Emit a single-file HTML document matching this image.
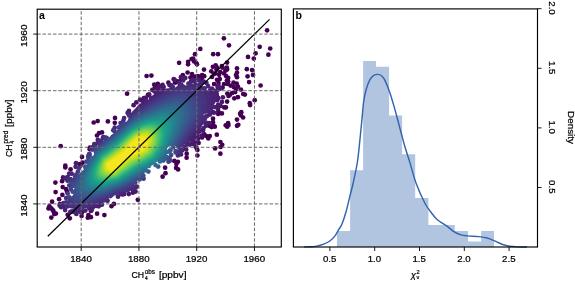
<!DOCTYPE html>
<html><head><meta charset="utf-8"><style>
html,body{margin:0;padding:0;background:#fff;}
svg{display:block;will-change:transform;}
.t{font-family:"Liberation Sans", sans-serif;font-size:9px;fill:#000;stroke:#000;stroke-width:0.22px;}
.s{font-size:6.3px;}
.pl{font-family:"Liberation Sans", sans-serif;font-size:10.6px;font-weight:bold;fill:#000;}
</style></head><body>
<svg width="575" height="282" viewBox="0 0 575 282">
<rect width="575" height="282" fill="#fff"/>
<g id="pa">
<g fill="#440154">
<circle cx="223.9" cy="38.3" r="2.35"/>
<circle cx="229.0" cy="45.3" r="2.35"/>
<circle cx="200.3" cy="48.9" r="2.35"/>
<circle cx="195.0" cy="54.2" r="2.35"/>
<circle cx="213.2" cy="54.2" r="2.35"/>
<circle cx="218.0" cy="54.2" r="2.35"/>
<circle cx="193.2" cy="58.6" r="2.35"/>
<circle cx="267.1" cy="30.3" r="2.35"/>
<circle cx="259.7" cy="46.8" r="2.35"/>
<circle cx="270.2" cy="48.5" r="2.35"/>
<circle cx="255.6" cy="53.3" r="2.35"/>
<circle cx="268.4" cy="54.7" r="2.35"/>
<circle cx="248.0" cy="56.9" r="2.35"/>
<circle cx="253.8" cy="58.6" r="2.35"/>
<circle cx="246.8" cy="69.2" r="2.35"/>
<circle cx="252.1" cy="70.1" r="2.35"/>
<circle cx="237.0" cy="68.3" r="2.35"/>
<circle cx="237.0" cy="72.7" r="2.35"/>
<circle cx="247.6" cy="76.3" r="2.35"/>
<circle cx="253.0" cy="74.9" r="2.35"/>
<circle cx="237.0" cy="77.2" r="2.35"/>
<circle cx="249.1" cy="82.1" r="2.35"/>
<circle cx="260.6" cy="85.5" r="2.35"/>
<circle cx="237.9" cy="86.6" r="2.35"/>
<circle cx="240.9" cy="89.6" r="2.35"/>
<circle cx="243.2" cy="94.0" r="2.35"/>
<circle cx="237.9" cy="97.2" r="2.35"/>
<circle cx="254.7" cy="100.2" r="2.35"/>
<circle cx="249.8" cy="103.2" r="2.35"/>
<circle cx="191.6" cy="59.0" r="2.35"/>
<circle cx="188.1" cy="64.3" r="2.35"/>
<circle cx="197.0" cy="64.3" r="2.35"/>
<circle cx="227.1" cy="62.6" r="2.35"/>
<circle cx="204.0" cy="69.6" r="2.35"/>
<circle cx="212.9" cy="66.8" r="2.35"/>
<circle cx="216.5" cy="69.6" r="2.35"/>
<circle cx="221.8" cy="66.1" r="2.35"/>
<circle cx="236.0" cy="75.0" r="2.35"/>
<circle cx="182.8" cy="75.0" r="2.35"/>
<circle cx="230.6" cy="85.6" r="2.35"/>
<circle cx="236.0" cy="89.1" r="2.35"/>
<circle cx="250.1" cy="105.1" r="2.35"/>
<circle cx="227.1" cy="101.6" r="2.35"/>
<circle cx="218.2" cy="114.0" r="2.35"/>
<circle cx="241.3" cy="112.2" r="2.35"/>
<circle cx="243.1" cy="117.5" r="2.35"/>
<circle cx="179.1" cy="62.8" r="2.35"/>
<circle cx="151.4" cy="75.6" r="2.35"/>
<circle cx="187.6" cy="72.5" r="2.35"/>
<circle cx="182.9" cy="77.7" r="2.35"/>
<circle cx="157.8" cy="83.8" r="2.35"/>
<circle cx="168.4" cy="82.7" r="2.35"/>
<circle cx="177.7" cy="81.3" r="2.35"/>
<circle cx="217.0" cy="67.7" r="2.35"/>
<circle cx="211.3" cy="71.3" r="2.35"/>
<circle cx="222.6" cy="67.7" r="2.35"/>
<circle cx="225.5" cy="70.6" r="2.35"/>
<circle cx="226.9" cy="67.7" r="2.35"/>
<circle cx="192.1" cy="76.2" r="2.35"/>
<circle cx="197.8" cy="76.2" r="2.35"/>
<circle cx="204.2" cy="76.2" r="2.35"/>
<circle cx="215.5" cy="73.4" r="2.35"/>
<circle cx="219.1" cy="74.8" r="2.35"/>
<circle cx="224.0" cy="73.4" r="2.35"/>
<circle cx="226.2" cy="76.2" r="2.35"/>
<circle cx="217.0" cy="79.8" r="2.35"/>
<circle cx="219.8" cy="79.1" r="2.35"/>
<circle cx="226.9" cy="80.5" r="2.35"/>
<circle cx="214.1" cy="84.0" r="2.35"/>
<circle cx="224.0" cy="84.0" r="2.35"/>
<circle cx="217.7" cy="86.9" r="2.35"/>
<circle cx="222.6" cy="87.6" r="2.35"/>
<circle cx="227.6" cy="84.0" r="2.35"/>
<circle cx="127.1" cy="93.7" r="2.35"/>
<circle cx="146.6" cy="76.0" r="2.35"/>
<circle cx="188.1" cy="61.8" r="2.35"/>
<circle cx="196.2" cy="62.8" r="2.35"/>
<circle cx="215.7" cy="65.3" r="2.35"/>
<circle cx="155.0" cy="86.0" r="2.35"/>
<circle cx="93.7" cy="122.5" r="2.35"/>
<circle cx="115.0" cy="117.9" r="2.35"/>
<circle cx="107.9" cy="121.4" r="2.35"/>
<circle cx="99.0" cy="133.1" r="2.35"/>
<circle cx="60.7" cy="146.2" r="2.35"/>
<circle cx="82.0" cy="156.9" r="2.35"/>
<circle cx="65.3" cy="165.7" r="2.35"/>
<circle cx="70.6" cy="169.3" r="2.35"/>
<circle cx="97.7" cy="121.1" r="2.35"/>
<circle cx="114.8" cy="122.8" r="2.35"/>
<circle cx="102.0" cy="132.4" r="2.35"/>
<circle cx="97.0" cy="135.5" r="2.35"/>
<circle cx="89.9" cy="147.6" r="2.35"/>
<circle cx="148.0" cy="94.9" r="2.35"/>
<circle cx="79.8" cy="164.1" r="2.35"/>
<circle cx="82.6" cy="162.7" r="2.35"/>
<circle cx="65.3" cy="167.4" r="2.35"/>
<circle cx="55.4" cy="182.6" r="2.35"/>
<circle cx="62.1" cy="181.2" r="2.35"/>
<circle cx="89.7" cy="149.3" r="2.35"/>
<circle cx="62.7" cy="187.1" r="2.35"/>
<circle cx="55.6" cy="192.1" r="2.35"/>
<circle cx="62.4" cy="194.9" r="2.35"/>
<circle cx="59.1" cy="199.2" r="2.35"/>
<circle cx="52.1" cy="201.7" r="2.35"/>
<circle cx="59.9" cy="204.1" r="2.35"/>
<circle cx="48.5" cy="208.4" r="2.35"/>
<circle cx="51.3" cy="208.4" r="2.35"/>
<circle cx="53.5" cy="211.2" r="2.35"/>
<circle cx="54.2" cy="214.1" r="2.35"/>
<circle cx="51.3" cy="217.6" r="2.35"/>
<circle cx="67.7" cy="214.8" r="2.35"/>
<circle cx="69.8" cy="218.3" r="2.35"/>
<circle cx="75.5" cy="212.7" r="2.35"/>
<circle cx="52.6" cy="209.8" r="2.35"/>
<circle cx="49.4" cy="206.2" r="2.35"/>
<circle cx="88.4" cy="215.1" r="2.35"/>
<circle cx="104.4" cy="215.1" r="2.35"/>
<circle cx="111.5" cy="206.2" r="2.35"/>
<circle cx="137.8" cy="199.8" r="2.35"/>
<circle cx="162.6" cy="176.7" r="2.35"/>
<circle cx="165.5" cy="173.2" r="2.35"/>
<circle cx="176.1" cy="167.9" r="2.35"/>
<circle cx="177.9" cy="161.8" r="2.35"/>
<circle cx="186.7" cy="153.7" r="2.35"/>
<circle cx="197.4" cy="155.5" r="2.35"/>
<circle cx="197.4" cy="150.1" r="2.35"/>
<circle cx="220.4" cy="153.7" r="2.35"/>
<circle cx="215.1" cy="148.4" r="2.35"/>
<circle cx="222.2" cy="144.8" r="2.35"/>
<circle cx="220.4" cy="142.0" r="2.35"/>
<circle cx="206.2" cy="136.0" r="2.35"/>
<circle cx="209.8" cy="136.0" r="2.35"/>
<circle cx="211.6" cy="127.1" r="2.35"/>
<circle cx="213.3" cy="125.3" r="2.35"/>
<circle cx="225.7" cy="125.3" r="2.35"/>
<circle cx="165.1" cy="167.7" r="2.35"/>
<circle cx="235.2" cy="92.1" r="2.35"/>
<circle cx="234.3" cy="98.3" r="2.35"/>
<circle cx="229.9" cy="94.8" r="2.35"/>
<circle cx="218.4" cy="111.6" r="2.35"/>
<circle cx="221.9" cy="113.4" r="2.35"/>
<circle cx="213.0" cy="118.7" r="2.35"/>
<circle cx="213.0" cy="122.2" r="2.35"/>
<circle cx="209.5" cy="125.8" r="2.35"/>
<circle cx="214.8" cy="126.7" r="2.35"/>
<circle cx="228.1" cy="123.1" r="2.35"/>
<circle cx="227.2" cy="126.7" r="2.35"/>
<circle cx="237.0" cy="125.8" r="2.35"/>
<circle cx="237.0" cy="119.6" r="2.35"/>
<circle cx="113.9" cy="203.9" r="2.35"/>
<circle cx="97.1" cy="213.7" r="2.35"/>
<circle cx="90.9" cy="217.2" r="2.35"/>
<circle cx="81.6" cy="215.9" r="2.35"/>
<circle cx="87.8" cy="217.7" r="2.35"/>
<circle cx="55.9" cy="213.6" r="2.35"/>
<circle cx="228.5" cy="95.9" r="2.35"/>
<circle cx="225.9" cy="107.4" r="2.35"/>
<circle cx="241.0" cy="115.4" r="2.35"/>
<circle cx="228.5" cy="125.1" r="2.35"/>
<circle cx="238.3" cy="124.8" r="2.35"/>
<circle cx="216.8" cy="134.7" r="2.35"/>
<circle cx="208.3" cy="138.5" r="2.35"/>
<circle cx="220.6" cy="147.0" r="2.35"/>
<circle cx="196.6" cy="148.1" r="2.35"/>
<circle cx="186.6" cy="157.7" r="2.35"/>
<circle cx="174.3" cy="160.9" r="2.35"/>
<circle cx="176.4" cy="164.0" r="2.35"/>
<circle cx="178.1" cy="169.4" r="2.35"/>
<circle cx="194.1" cy="61.4" r="2.35"/>
<circle cx="181.4" cy="79.5" r="2.35"/>
<circle cx="175.0" cy="82.7" r="2.35"/>
<circle cx="193.6" cy="79.5" r="2.35"/>
<circle cx="191.0" cy="81.6" r="2.35"/>
<circle cx="199.5" cy="76.8" r="2.35"/>
<circle cx="202.1" cy="75.2" r="2.35"/>
<circle cx="200.5" cy="80.5" r="2.35"/>
<circle cx="203.7" cy="81.6" r="2.35"/>
<circle cx="220.2" cy="72.0" r="2.35"/>
<circle cx="213.8" cy="74.1" r="2.35"/>
<circle cx="201.6" cy="78.4" r="2.35"/>
<circle cx="228.2" cy="81.6" r="2.35"/>
<circle cx="80.5" cy="165.7" r="2.35"/>
<circle cx="82.3" cy="212.0" r="2.35"/>
<circle cx="90.9" cy="211.0" r="2.35"/>
<circle cx="66.0" cy="189.0" r="2.35"/>
<circle cx="67.0" cy="191.5" r="2.35"/>
<circle cx="227.1" cy="69.4" r="2.35"/>
<circle cx="228.2" cy="77.9" r="2.35"/>
<circle cx="233.5" cy="82.7" r="2.35"/>
<circle cx="236.7" cy="83.7" r="2.35"/>
<circle cx="227.3" cy="93.5" r="2.35"/>
<circle cx="224.1" cy="107.3" r="2.35"/>
<circle cx="233.7" cy="87.1" r="2.35"/>
<circle cx="204.3" cy="134.3" r="2.35"/>
<circle cx="202.1" cy="137.5" r="2.35"/>
<circle cx="232.1" cy="93.0" r="2.35"/>
<circle cx="244.9" cy="94.6" r="2.35"/>
<circle cx="240.1" cy="113.7" r="2.35"/>
<circle cx="192.0" cy="74.0" r="2.35"/>
<circle cx="195.0" cy="76.5" r="2.35"/>
<circle cx="212.0" cy="77.0" r="2.35"/>
<circle cx="218.5" cy="83.0" r="2.35"/>
<circle cx="190.5" cy="77.5" r="2.35"/>
</g>
<circle cx="154.2" cy="84.5" r="2.35" fill="#460b5e"/>
<circle cx="198.7" cy="143.0" r="2.35" fill="#470d60"/>
<circle cx="195.7" cy="146.7" r="2.35" fill="#470d60"/>
<circle cx="152.3" cy="89.9" r="2.35" fill="#471164"/>
<circle cx="140.0" cy="99.6" r="2.35" fill="#471365"/>
<circle cx="136.3" cy="102.4" r="2.35" fill="#471365"/>
<circle cx="202.3" cy="135.6" r="2.35" fill="#471365"/>
<circle cx="195.2" cy="142.6" r="2.35" fill="#471365"/>
<circle cx="154.3" cy="89.2" r="2.35" fill="#471365"/>
<circle cx="201.7" cy="135.9" r="2.35" fill="#471365"/>
<circle cx="198.2" cy="138.8" r="2.35" fill="#481467"/>
<circle cx="158.9" cy="86.3" r="2.35" fill="#481467"/>
<circle cx="133.6" cy="105.2" r="2.35" fill="#481467"/>
<circle cx="63.0" cy="177.4" r="2.35" fill="#481668"/>
<circle cx="135.6" cy="191.6" r="2.35" fill="#481668"/>
<circle cx="143.9" cy="98.0" r="2.35" fill="#481668"/>
<circle cx="141.1" cy="100.1" r="2.35" fill="#481668"/>
<circle cx="132.8" cy="192.7" r="2.35" fill="#481668"/>
<circle cx="197.3" cy="138.4" r="2.35" fill="#481668"/>
<circle cx="162.6" cy="84.9" r="2.35" fill="#481668"/>
<circle cx="220.7" cy="106.0" r="2.35" fill="#481668"/>
<circle cx="149.2" cy="94.3" r="2.35" fill="#481668"/>
<circle cx="154.8" cy="90.5" r="2.35" fill="#481769"/>
<circle cx="173.7" cy="79.2" r="2.35" fill="#481769"/>
<circle cx="128.8" cy="194.1" r="2.35" fill="#481769"/>
<circle cx="192.4" cy="144.0" r="2.35" fill="#481769"/>
<circle cx="221.9" cy="101.9" r="2.35" fill="#481769"/>
<circle cx="158.1" cy="88.5" r="2.35" fill="#481769"/>
<circle cx="162.1" cy="85.9" r="2.35" fill="#481769"/>
<circle cx="161.2" cy="86.6" r="2.35" fill="#481769"/>
<circle cx="222.9" cy="97.3" r="2.35" fill="#481769"/>
<circle cx="180.9" cy="77.2" r="2.35" fill="#48186a"/>
<circle cx="193.4" cy="141.9" r="2.35" fill="#48186a"/>
<circle cx="146.1" cy="97.5" r="2.35" fill="#48186a"/>
<circle cx="155.9" cy="90.6" r="2.35" fill="#48186a"/>
<circle cx="154.6" cy="91.6" r="2.35" fill="#48186a"/>
<circle cx="174.7" cy="79.9" r="2.35" fill="#48186a"/>
<circle cx="218.0" cy="109.1" r="2.35" fill="#48186a"/>
<circle cx="209.3" cy="123.0" r="2.35" fill="#481a6c"/>
<circle cx="156.3" cy="91.0" r="2.35" fill="#481a6c"/>
<circle cx="217.9" cy="106.5" r="2.35" fill="#481a6c"/>
<circle cx="203.0" cy="130.3" r="2.35" fill="#481a6c"/>
<circle cx="91.6" cy="210.2" r="2.35" fill="#481a6c"/>
<circle cx="129.0" cy="110.8" r="2.35" fill="#481a6c"/>
<circle cx="218.2" cy="104.6" r="2.35" fill="#481b6d"/>
<circle cx="76.0" cy="163.2" r="2.35" fill="#481b6d"/>
<circle cx="184.0" cy="77.8" r="2.35" fill="#481b6d"/>
<circle cx="220.2" cy="87.9" r="2.35" fill="#481b6d"/>
<circle cx="197.6" cy="135.5" r="2.35" fill="#481b6d"/>
<circle cx="202.5" cy="130.4" r="2.35" fill="#481b6d"/>
<circle cx="219.8" cy="88.9" r="2.35" fill="#481b6d"/>
<circle cx="185.3" cy="77.9" r="2.35" fill="#481b6d"/>
<circle cx="163.7" cy="87.0" r="2.35" fill="#481b6d"/>
<circle cx="218.5" cy="85.9" r="2.35" fill="#481c6e"/>
<circle cx="206.1" cy="125.7" r="2.35" fill="#481c6e"/>
<circle cx="65.2" cy="178.2" r="2.35" fill="#481c6e"/>
<circle cx="189.9" cy="144.6" r="2.35" fill="#481c6e"/>
<circle cx="214.0" cy="112.7" r="2.35" fill="#481c6e"/>
<circle cx="217.8" cy="86.1" r="2.35" fill="#481c6e"/>
<circle cx="76.4" cy="214.0" r="2.35" fill="#481c6e"/>
<circle cx="98.7" cy="206.3" r="2.35" fill="#481c6e"/>
<circle cx="143.1" cy="101.4" r="2.35" fill="#481c6e"/>
<circle cx="127.8" cy="112.5" r="2.35" fill="#481c6e"/>
<circle cx="218.3" cy="98.2" r="2.35" fill="#481c6e"/>
<circle cx="118.0" cy="196.7" r="2.35" fill="#481c6e"/>
<circle cx="186.2" cy="149.5" r="2.35" fill="#481c6e"/>
<circle cx="203.6" cy="128.0" r="2.35" fill="#481c6e"/>
<circle cx="102.0" cy="204.5" r="2.35" fill="#481d6f"/>
<circle cx="101.4" cy="204.7" r="2.35" fill="#481d6f"/>
<circle cx="217.2" cy="100.1" r="2.35" fill="#481d6f"/>
<circle cx="192.3" cy="140.2" r="2.35" fill="#481d6f"/>
<circle cx="122.9" cy="194.4" r="2.35" fill="#481d6f"/>
<circle cx="69.2" cy="173.6" r="2.35" fill="#481d6f"/>
<circle cx="124.1" cy="193.9" r="2.35" fill="#481d6f"/>
<circle cx="217.3" cy="90.3" r="2.35" fill="#481d6f"/>
<circle cx="192.3" cy="139.7" r="2.35" fill="#481f70"/>
<circle cx="216.5" cy="98.5" r="2.35" fill="#481f70"/>
<circle cx="183.1" cy="80.4" r="2.35" fill="#481f70"/>
<circle cx="169.4" cy="85.1" r="2.35" fill="#481f70"/>
<circle cx="59.6" cy="205.5" r="2.35" fill="#481f70"/>
<circle cx="97.8" cy="139.8" r="2.35" fill="#481f70"/>
<circle cx="214.8" cy="107.1" r="2.35" fill="#481f70"/>
<circle cx="124.0" cy="193.7" r="2.35" fill="#481f70"/>
<circle cx="199.4" cy="131.4" r="2.35" fill="#481f70"/>
<circle cx="216.4" cy="93.9" r="2.35" fill="#481f70"/>
<circle cx="212.3" cy="111.9" r="2.35" fill="#481f70"/>
<circle cx="61.1" cy="207.2" r="2.35" fill="#482071"/>
<circle cx="128.0" cy="113.3" r="2.35" fill="#482071"/>
<circle cx="145.5" cy="100.7" r="2.35" fill="#482071"/>
<circle cx="85.4" cy="210.6" r="2.35" fill="#482071"/>
<circle cx="206.0" cy="122.7" r="2.35" fill="#482071"/>
<circle cx="66.8" cy="177.9" r="2.35" fill="#482071"/>
<circle cx="75.9" cy="212.6" r="2.35" fill="#482071"/>
<circle cx="80.1" cy="211.8" r="2.35" fill="#482071"/>
<circle cx="198.4" cy="79.8" r="2.35" fill="#482071"/>
<circle cx="67.6" cy="177.0" r="2.35" fill="#482071"/>
<circle cx="122.5" cy="193.9" r="2.35" fill="#482071"/>
<circle cx="65.1" cy="210.1" r="2.35" fill="#482173"/>
<circle cx="209.9" cy="114.6" r="2.35" fill="#482173"/>
<circle cx="70.2" cy="212.1" r="2.35" fill="#482173"/>
<circle cx="198.4" cy="80.2" r="2.35" fill="#482173"/>
<circle cx="171.2" cy="85.3" r="2.35" fill="#482173"/>
<circle cx="66.5" cy="178.9" r="2.35" fill="#482173"/>
<circle cx="196.9" cy="132.9" r="2.35" fill="#482173"/>
<circle cx="107.6" cy="200.8" r="2.35" fill="#482173"/>
<circle cx="92.8" cy="207.5" r="2.35" fill="#482173"/>
<circle cx="193.3" cy="80.0" r="2.35" fill="#482173"/>
<circle cx="214.2" cy="100.0" r="2.35" fill="#482173"/>
<circle cx="156.7" cy="93.9" r="2.35" fill="#482173"/>
<circle cx="188.6" cy="143.4" r="2.35" fill="#482173"/>
<circle cx="181.0" cy="154.4" r="2.35" fill="#482173"/>
<circle cx="213.7" cy="90.7" r="2.35" fill="#482173"/>
<circle cx="171.1" cy="85.7" r="2.35" fill="#482173"/>
<circle cx="96.1" cy="205.9" r="2.35" fill="#482173"/>
<circle cx="75.6" cy="166.8" r="2.35" fill="#482173"/>
<circle cx="179.2" cy="82.9" r="2.35" fill="#482173"/>
<circle cx="121.1" cy="194.1" r="2.35" fill="#482173"/>
<circle cx="97.7" cy="205.1" r="2.35" fill="#482173"/>
<circle cx="206.5" cy="83.1" r="2.35" fill="#482374"/>
<circle cx="151.0" cy="97.8" r="2.35" fill="#482374"/>
<circle cx="212.0" cy="88.6" r="2.35" fill="#482374"/>
<circle cx="202.5" cy="82.3" r="2.35" fill="#482374"/>
<circle cx="71.2" cy="211.7" r="2.35" fill="#482374"/>
<circle cx="191.9" cy="80.8" r="2.35" fill="#482374"/>
<circle cx="161.8" cy="91.1" r="2.35" fill="#482374"/>
<circle cx="89.3" cy="208.3" r="2.35" fill="#482374"/>
<circle cx="72.4" cy="211.5" r="2.35" fill="#482374"/>
<circle cx="133.3" cy="188.8" r="2.35" fill="#482374"/>
<circle cx="194.8" cy="81.0" r="2.35" fill="#482374"/>
<circle cx="195.2" cy="81.1" r="2.35" fill="#482374"/>
<circle cx="135.6" cy="187.6" r="2.35" fill="#482475"/>
<circle cx="146.6" cy="101.3" r="2.35" fill="#482475"/>
<circle cx="208.1" cy="86.2" r="2.35" fill="#482475"/>
<circle cx="212.7" cy="101.7" r="2.35" fill="#482475"/>
<circle cx="73.0" cy="211.3" r="2.35" fill="#482475"/>
<circle cx="94.3" cy="144.1" r="2.35" fill="#482475"/>
<circle cx="185.2" cy="147.2" r="2.35" fill="#482475"/>
<circle cx="211.1" cy="108.3" r="2.35" fill="#482475"/>
<circle cx="128.9" cy="113.9" r="2.35" fill="#482475"/>
<circle cx="186.9" cy="144.4" r="2.35" fill="#482475"/>
<circle cx="210.0" cy="90.3" r="2.35" fill="#482576"/>
<circle cx="200.7" cy="83.3" r="2.35" fill="#482576"/>
<circle cx="207.3" cy="115.8" r="2.35" fill="#482576"/>
<circle cx="124.1" cy="118.1" r="2.35" fill="#482576"/>
<circle cx="136.9" cy="186.5" r="2.35" fill="#482576"/>
<circle cx="210.2" cy="92.9" r="2.35" fill="#482576"/>
<circle cx="100.4" cy="202.9" r="2.35" fill="#482576"/>
<circle cx="78.3" cy="210.3" r="2.35" fill="#482576"/>
<circle cx="71.6" cy="173.7" r="2.35" fill="#482576"/>
<circle cx="63.4" cy="205.9" r="2.35" fill="#482576"/>
<circle cx="103.3" cy="137.1" r="2.35" fill="#482677"/>
<circle cx="64.9" cy="207.1" r="2.35" fill="#482677"/>
<circle cx="182.1" cy="150.4" r="2.35" fill="#482677"/>
<circle cx="154.3" cy="97.2" r="2.35" fill="#482677"/>
<circle cx="208.4" cy="111.4" r="2.35" fill="#482677"/>
<circle cx="188.4" cy="83.7" r="2.35" fill="#482878"/>
<circle cx="202.8" cy="122.5" r="2.35" fill="#482878"/>
<circle cx="131.5" cy="188.7" r="2.35" fill="#482878"/>
<circle cx="204.9" cy="118.4" r="2.35" fill="#482878"/>
<circle cx="164.0" cy="91.7" r="2.35" fill="#482878"/>
<circle cx="91.0" cy="148.5" r="2.35" fill="#482878"/>
<circle cx="67.6" cy="180.7" r="2.35" fill="#482878"/>
<circle cx="102.9" cy="137.9" r="2.35" fill="#482979"/>
<circle cx="173.1" cy="87.4" r="2.35" fill="#482979"/>
<circle cx="204.5" cy="88.4" r="2.35" fill="#482979"/>
<circle cx="205.4" cy="116.6" r="2.35" fill="#482979"/>
<circle cx="80.5" cy="208.9" r="2.35" fill="#482979"/>
<circle cx="143.1" cy="105.3" r="2.35" fill="#482979"/>
<circle cx="81.6" cy="208.7" r="2.35" fill="#482979"/>
<circle cx="198.7" cy="85.3" r="2.35" fill="#482979"/>
<circle cx="172.1" cy="88.1" r="2.35" fill="#482979"/>
<circle cx="120.9" cy="192.7" r="2.35" fill="#482979"/>
<circle cx="177.9" cy="155.4" r="2.35" fill="#472a7a"/>
<circle cx="127.6" cy="190.2" r="2.35" fill="#472a7a"/>
<circle cx="201.9" cy="122.4" r="2.35" fill="#472a7a"/>
<circle cx="195.5" cy="84.9" r="2.35" fill="#472a7a"/>
<circle cx="63.4" cy="203.0" r="2.35" fill="#472a7a"/>
<circle cx="153.1" cy="98.9" r="2.35" fill="#472a7a"/>
<circle cx="120.1" cy="192.9" r="2.35" fill="#472a7a"/>
<circle cx="204.1" cy="89.1" r="2.35" fill="#472a7a"/>
<circle cx="114.7" cy="127.7" r="2.35" fill="#472a7a"/>
<circle cx="103.9" cy="200.5" r="2.35" fill="#472a7a"/>
<circle cx="200.1" cy="124.7" r="2.35" fill="#472a7a"/>
<circle cx="78.7" cy="208.8" r="2.35" fill="#472a7a"/>
<circle cx="203.4" cy="119.6" r="2.35" fill="#472a7a"/>
<circle cx="75.4" cy="209.0" r="2.35" fill="#472a7a"/>
<circle cx="92.7" cy="147.0" r="2.35" fill="#472a7a"/>
<circle cx="133.7" cy="187.0" r="2.35" fill="#472a7a"/>
<circle cx="78.1" cy="208.6" r="2.35" fill="#472a7a"/>
<circle cx="207.9" cy="106.7" r="2.35" fill="#472a7a"/>
<circle cx="202.7" cy="88.7" r="2.35" fill="#472c7a"/>
<circle cx="207.8" cy="106.9" r="2.35" fill="#472c7a"/>
<circle cx="92.7" cy="204.9" r="2.35" fill="#472c7a"/>
<circle cx="67.3" cy="206.4" r="2.35" fill="#472c7a"/>
<circle cx="180.1" cy="151.1" r="2.35" fill="#472c7a"/>
<circle cx="97.5" cy="143.0" r="2.35" fill="#472c7a"/>
<circle cx="200.6" cy="87.8" r="2.35" fill="#472c7a"/>
<circle cx="194.1" cy="85.9" r="2.35" fill="#472c7a"/>
<circle cx="178.7" cy="153.2" r="2.35" fill="#472c7a"/>
<circle cx="95.2" cy="145.1" r="2.35" fill="#472c7a"/>
<circle cx="129.4" cy="188.8" r="2.35" fill="#472d7b"/>
<circle cx="129.1" cy="115.6" r="2.35" fill="#472d7b"/>
<circle cx="203.5" cy="90.6" r="2.35" fill="#472d7b"/>
<circle cx="205.4" cy="111.4" r="2.35" fill="#472d7b"/>
<circle cx="125.6" cy="190.4" r="2.35" fill="#472d7b"/>
<circle cx="93.7" cy="204.1" r="2.35" fill="#472d7b"/>
<circle cx="120.6" cy="123.0" r="2.35" fill="#472d7b"/>
<circle cx="103.8" cy="199.9" r="2.35" fill="#472d7b"/>
<circle cx="123.4" cy="120.6" r="2.35" fill="#472d7b"/>
<circle cx="205.9" cy="108.9" r="2.35" fill="#472d7b"/>
<circle cx="87.4" cy="206.1" r="2.35" fill="#472e7c"/>
<circle cx="82.5" cy="207.3" r="2.35" fill="#472e7c"/>
<circle cx="92.0" cy="204.5" r="2.35" fill="#472e7c"/>
<circle cx="178.5" cy="87.8" r="2.35" fill="#472e7c"/>
<circle cx="104.9" cy="199.2" r="2.35" fill="#472e7c"/>
<circle cx="101.1" cy="200.7" r="2.35" fill="#472e7c"/>
<circle cx="91.1" cy="204.6" r="2.35" fill="#472e7c"/>
<circle cx="70.2" cy="179.3" r="2.35" fill="#472e7c"/>
<circle cx="100.9" cy="140.9" r="2.35" fill="#472f7d"/>
<circle cx="180.7" cy="148.8" r="2.35" fill="#472f7d"/>
<circle cx="113.3" cy="130.2" r="2.35" fill="#472f7d"/>
<circle cx="70.4" cy="179.2" r="2.35" fill="#472f7d"/>
<circle cx="87.3" cy="205.7" r="2.35" fill="#472f7d"/>
<circle cx="200.0" cy="121.9" r="2.35" fill="#472f7d"/>
<circle cx="105.1" cy="137.5" r="2.35" fill="#472f7d"/>
<circle cx="99.5" cy="142.2" r="2.35" fill="#472f7d"/>
<circle cx="204.1" cy="111.6" r="2.35" fill="#472f7d"/>
<circle cx="91.9" cy="149.4" r="2.35" fill="#46307e"/>
<circle cx="66.1" cy="202.3" r="2.35" fill="#46307e"/>
<circle cx="66.8" cy="203.0" r="2.35" fill="#46307e"/>
<circle cx="87.3" cy="205.3" r="2.35" fill="#46307e"/>
<circle cx="123.7" cy="190.4" r="2.35" fill="#46307e"/>
<circle cx="88.6" cy="204.7" r="2.35" fill="#46327e"/>
<circle cx="106.8" cy="197.8" r="2.35" fill="#46327e"/>
<circle cx="72.1" cy="206.0" r="2.35" fill="#46327e"/>
<circle cx="110.4" cy="196.1" r="2.35" fill="#46327e"/>
<circle cx="116.0" cy="193.2" r="2.35" fill="#46327e"/>
<circle cx="68.7" cy="204.0" r="2.35" fill="#46327e"/>
<circle cx="96.6" cy="201.6" r="2.35" fill="#46337f"/>
<circle cx="102.5" cy="199.4" r="2.35" fill="#46337f"/>
<circle cx="177.7" cy="151.9" r="2.35" fill="#46337f"/>
<circle cx="185.3" cy="140.2" r="2.35" fill="#463480"/>
<circle cx="132.6" cy="185.8" r="2.35" fill="#463480"/>
<circle cx="130.5" cy="116.1" r="2.35" fill="#463480"/>
<circle cx="66.1" cy="198.0" r="2.35" fill="#463480"/>
<circle cx="79.1" cy="167.8" r="2.35" fill="#463480"/>
<circle cx="125.4" cy="189.2" r="2.35" fill="#463480"/>
<circle cx="78.9" cy="168.1" r="2.35" fill="#463480"/>
<circle cx="95.6" cy="201.6" r="2.35" fill="#463480"/>
<circle cx="89.0" cy="154.3" r="2.35" fill="#463480"/>
<circle cx="112.6" cy="194.2" r="2.35" fill="#453781"/>
<circle cx="184.0" cy="140.9" r="2.35" fill="#453781"/>
<circle cx="93.0" cy="149.5" r="2.35" fill="#453781"/>
<circle cx="71.2" cy="181.2" r="2.35" fill="#453781"/>
<circle cx="69.6" cy="201.8" r="2.35" fill="#453882"/>
<circle cx="111.5" cy="194.6" r="2.35" fill="#453882"/>
<circle cx="111.4" cy="194.6" r="2.35" fill="#453882"/>
<circle cx="106.6" cy="137.8" r="2.35" fill="#453882"/>
<circle cx="114.3" cy="130.9" r="2.35" fill="#453882"/>
<circle cx="89.6" cy="154.1" r="2.35" fill="#453882"/>
<circle cx="69.3" cy="185.4" r="2.35" fill="#453882"/>
<circle cx="105.5" cy="138.8" r="2.35" fill="#453882"/>
<circle cx="182.2" cy="143.3" r="2.35" fill="#453882"/>
<circle cx="74.8" cy="175.8" r="2.35" fill="#443983"/>
<circle cx="183.3" cy="141.3" r="2.35" fill="#443983"/>
<circle cx="69.9" cy="201.1" r="2.35" fill="#443983"/>
<circle cx="67.7" cy="193.6" r="2.35" fill="#443983"/>
<circle cx="95.5" cy="200.6" r="2.35" fill="#443983"/>
<circle cx="88.2" cy="156.4" r="2.35" fill="#443a83"/>
<circle cx="175.7" cy="152.5" r="2.35" fill="#443a83"/>
<circle cx="77.9" cy="171.7" r="2.35" fill="#443b84"/>
<circle cx="76.3" cy="174.5" r="2.35" fill="#443b84"/>
<circle cx="143.6" cy="178.7" r="2.35" fill="#443b84"/>
<circle cx="72.0" cy="181.7" r="2.35" fill="#443b84"/>
<circle cx="98.4" cy="199.2" r="2.35" fill="#443b84"/>
<circle cx="170.0" cy="160.6" r="2.35" fill="#443b84"/>
<circle cx="89.3" cy="155.4" r="2.35" fill="#443b84"/>
<circle cx="75.7" cy="175.6" r="2.35" fill="#433d84"/>
<circle cx="121.7" cy="125.0" r="2.35" fill="#433d84"/>
<circle cx="119.0" cy="127.4" r="2.35" fill="#433d84"/>
<circle cx="69.4" cy="197.3" r="2.35" fill="#433d84"/>
<circle cx="103.2" cy="197.1" r="2.35" fill="#433e85"/>
<circle cx="95.4" cy="148.0" r="2.35" fill="#433e85"/>
<circle cx="121.6" cy="189.3" r="2.35" fill="#433e85"/>
<circle cx="125.0" cy="188.0" r="2.35" fill="#433e85"/>
<circle cx="135.3" cy="182.6" r="2.35" fill="#433e85"/>
<circle cx="175.7" cy="151.1" r="2.35" fill="#433e85"/>
<circle cx="168.5" cy="161.7" r="2.35" fill="#423f85"/>
<circle cx="178.3" cy="146.7" r="2.35" fill="#423f85"/>
<circle cx="128.1" cy="186.2" r="2.35" fill="#424086"/>
<circle cx="72.6" cy="182.7" r="2.35" fill="#424086"/>
<circle cx="120.7" cy="126.7" r="2.35" fill="#424086"/>
<circle cx="122.2" cy="125.4" r="2.35" fill="#424186"/>
<circle cx="75.1" cy="178.4" r="2.35" fill="#424186"/>
<circle cx="70.8" cy="189.2" r="2.35" fill="#414287"/>
<circle cx="101.7" cy="196.8" r="2.35" fill="#414287"/>
<circle cx="120.0" cy="127.7" r="2.35" fill="#414487"/>
<circle cx="139.5" cy="179.5" r="2.35" fill="#414487"/>
<circle cx="72.1" cy="186.2" r="2.35" fill="#414487"/>
<circle cx="88.6" cy="158.3" r="2.35" fill="#404588"/>
<circle cx="95.8" cy="148.8" r="2.35" fill="#404588"/>
<circle cx="86.4" cy="161.7" r="2.35" fill="#404688"/>
<circle cx="73.8" cy="183.4" r="2.35" fill="#3f4788"/>
<circle cx="124.6" cy="124.3" r="2.35" fill="#3f4788"/>
<circle cx="103.9" cy="142.5" r="2.35" fill="#3f4788"/>
<circle cx="169.5" cy="157.9" r="2.35" fill="#3f4788"/>
<circle cx="108.0" cy="139.3" r="2.35" fill="#3f4889"/>
<circle cx="133.6" cy="181.9" r="2.35" fill="#3f4889"/>
<circle cx="171.2" cy="155.0" r="2.35" fill="#3f4889"/>
<circle cx="139.6" cy="178.5" r="2.35" fill="#3e4989"/>
<circle cx="72.7" cy="191.7" r="2.35" fill="#3e4989"/>
<circle cx="168.6" cy="158.4" r="2.35" fill="#3e4a89"/>
<circle cx="77.6" cy="177.4" r="2.35" fill="#3e4a89"/>
<circle cx="74.2" cy="185.0" r="2.35" fill="#3e4c8a"/>
<circle cx="103.0" cy="143.9" r="2.35" fill="#3e4c8a"/>
<circle cx="103.9" cy="143.3" r="2.35" fill="#3d4d8a"/>
<circle cx="142.1" cy="176.4" r="2.35" fill="#3d4d8a"/>
<circle cx="143.3" cy="175.6" r="2.35" fill="#3d4e8a"/>
<circle cx="75.2" cy="192.1" r="2.35" fill="#3b518b"/>
<circle cx="112.7" cy="136.9" r="2.35" fill="#3b528b"/>
<circle cx="85.3" cy="166.7" r="2.35" fill="#3a548c"/>
<circle cx="76.2" cy="186.2" r="2.35" fill="#3a548c"/>
<circle cx="173.1" cy="147.4" r="2.35" fill="#39568c"/>
<circle cx="158.2" cy="166.6" r="2.35" fill="#38588c"/>
<circle cx="148.4" cy="171.6" r="2.35" fill="#38588c"/>
<circle cx="89.1" cy="161.5" r="2.35" fill="#38598c"/>
<circle cx="166.6" cy="157.1" r="2.35" fill="#375a8c"/>
<circle cx="85.6" cy="167.6" r="2.35" fill="#375a8c"/>
<circle cx="111.5" cy="139.1" r="2.35" fill="#375a8c"/>
<circle cx="170.4" cy="150.7" r="2.35" fill="#375b8d"/>
<circle cx="96.1" cy="152.2" r="2.35" fill="#365c8d"/>
<circle cx="163.4" cy="160.6" r="2.35" fill="#365c8d"/>
<circle cx="165.0" cy="158.6" r="2.35" fill="#365c8d"/>
<circle cx="169.9" cy="150.5" r="2.35" fill="#355e8d"/>
<circle cx="164.4" cy="158.6" r="2.35" fill="#355f8d"/>
<circle cx="169.0" cy="151.6" r="2.35" fill="#34608d"/>
<circle cx="92.9" cy="158.1" r="2.35" fill="#32648e"/>
<circle cx="141.8" cy="172.6" r="2.35" fill="#31688e"/>
<circle cx="89.3" cy="164.7" r="2.35" fill="#31688e"/>
<circle cx="171.7" cy="143.7" r="2.35" fill="#31688e"/>
<circle cx="146.0" cy="170.3" r="2.35" fill="#30698e"/>
<circle cx="160.0" cy="161.5" r="2.35" fill="#306a8e"/>
<circle cx="162.9" cy="158.0" r="2.35" fill="#306a8e"/>
<circle cx="155.5" cy="165.1" r="2.35" fill="#2f6b8e"/>
<circle cx="92.2" cy="160.7" r="2.35" fill="#2f6b8e"/>
<circle cx="166.7" cy="152.1" r="2.35" fill="#2f6c8e"/>
<circle cx="141.8" cy="172.0" r="2.35" fill="#2f6c8e"/>
<circle cx="96.2" cy="155.1" r="2.35" fill="#2e6e8e"/>
<circle cx="88.0" cy="169.0" r="2.35" fill="#2d708e"/>
<circle cx="91.3" cy="163.8" r="2.35" fill="#2c738e"/>
<circle cx="148.8" cy="165.9" r="2.35" fill="#277e8e"/>
<circle cx="164.6" cy="149.2" r="2.35" fill="#26828e"/>
<circle cx="150.7" cy="163.5" r="2.35" fill="#24878e"/>
<circle cx="151.3" cy="162.7" r="2.35" fill="#238a8d"/>
<circle cx="155.8" cy="159.3" r="2.35" fill="#228d8d"/>
<clipPath id="cp"><path d="M66.4,204.8 L69.8,208.2 L74.9,208.7 L74.9,208.7 L81.1,209.4 L88.6,206.8 L93.4,204.8 L97.8,202.6 L103.4,197.9 L103.7,197.7 L104.0,197.5 L104.4,197.3 L104.7,197.2 L111.7,194.8 L118.5,192.3 L125.4,188.8 L125.4,188.8 L131.6,185.8 L133.7,182.7 L134.0,182.4 L134.3,182.1 L134.6,181.8 L135.0,181.6 L135.3,181.4 L139.0,179.7 L141.8,178.3 L143.4,174.6 L143.6,174.3 L143.8,174.0 L147.2,168.8 L147.4,168.5 L147.6,168.2 L147.9,168.0 L148.2,167.7 L151.7,165.2 L151.8,165.2 L157.8,161.2 L158.1,161.0 L158.5,160.8 L158.9,160.7 L163.7,159.3 L166.8,158.2 L166.9,158.2 L167.5,158.0 L167.4,157.8 L167.2,157.5 L167.0,157.1 L166.9,156.8 L166.8,156.4 L166.7,156.0 L166.7,155.6 L166.7,150.3 L166.7,149.9 L166.8,149.5 L166.9,149.2 L167.0,148.8 L167.1,148.5 L167.3,148.1 L167.6,147.8 L167.8,147.5 L168.1,147.3 L168.4,147.0 L168.7,146.8 L169.0,146.7 L171.2,145.7 L171.6,145.5 L172.0,145.4 L172.4,145.3 L172.8,145.3 L173.2,145.3 L173.6,145.4 L174.0,145.5 L174.4,145.6 L174.7,145.7 L175.1,146.0 L175.4,146.2 L178.0,148.3 L178.3,148.6 L178.6,148.9 L178.9,149.2 L179.1,149.6 L179.2,149.9 L179.2,149.9 L179.5,149.6 L179.8,149.3 L183.2,147.2 L184.8,143.8 L185.0,143.5 L185.2,143.2 L185.5,142.8 L185.8,142.6 L186.1,142.3 L186.5,142.1 L186.8,141.9 L187.2,141.8 L187.6,141.7 L193.5,140.5 L196.0,137.9 L199.1,134.4 L200.2,131.0 L201.4,127.0 L202.5,121.8 L202.5,121.7 L203.4,117.7 L204.0,111.6 L204.1,111.2 L204.2,110.9 L204.3,110.5 L204.5,110.1 L204.7,109.8 L204.9,109.5 L205.1,109.2 L205.4,108.9 L205.7,108.7 L206.1,108.5 L206.4,108.3 L206.8,108.2 L207.2,108.1 L207.6,108.0 L207.9,108.0 L208.3,108.0 L208.7,108.1 L211.5,108.6 L212.2,107.4 L212.3,107.2 L214.4,104.1 L217.6,98.9 L217.8,98.6 L218.1,98.3 L219.5,96.7 L218.4,92.8 L216.5,90.3 L214.7,89.6 L210.8,90.4 L210.4,90.5 L210.0,90.5 L209.6,90.5 L209.2,90.4 L204.2,89.4 L203.9,89.3 L203.5,89.2 L203.2,89.1 L202.9,88.9 L202.6,88.7 L198.9,85.9 L194.8,83.9 L190.9,83.4 L188.7,84.8 L188.4,85.0 L188.0,85.2 L187.6,85.3 L187.2,85.4 L186.8,85.4 L186.4,85.4 L186.0,85.4 L185.7,85.3 L185.3,85.2 L184.9,85.0 L184.6,84.8 L184.2,84.6 L183.9,84.4 L183.6,84.1 L183.4,83.8 L182.2,82.2 L178.8,83.9 L178.3,84.1 L178.1,84.2 L178.0,84.4 L178.0,84.8 L177.9,85.2 L177.7,85.5 L177.5,85.9 L177.3,86.2 L177.1,86.5 L176.8,86.8 L176.5,87.0 L176.2,87.2 L175.9,87.4 L175.5,87.5 L175.1,87.7 L174.8,87.7 L174.4,87.8 L170.3,88.1 L164.8,88.8 L160.7,89.4 L156.7,90.5 L153.2,95.2 L153.0,95.5 L152.7,95.8 L149.6,98.5 L146.8,101.3 L146.5,101.5 L146.1,101.8 L145.8,102.0 L145.4,102.1 L145.0,102.3 L140.1,103.6 L138.3,104.9 L135.8,108.0 L135.5,108.3 L131.6,112.3 L129.9,115.1 L127.9,119.8 L127.7,120.2 L127.5,120.5 L127.3,120.8 L127.1,121.1 L126.8,121.3 L126.5,121.6 L122.7,124.3 L119.9,127.5 L119.7,127.8 L119.4,128.0 L115.3,131.4 L111.3,135.5 L111.2,135.6 L107.6,139.1 L107.3,139.3 L107.0,139.5 L106.8,139.7 L106.4,139.8 L101.7,142.0 L99.2,143.4 L97.6,146.1 L97.5,146.2 L95.0,150.0 L93.9,154.5 L93.7,154.9 L93.6,155.3 L93.3,155.7 L89.6,161.4 L86.0,167.0 L85.7,167.4 L85.4,167.7 L81.2,171.9 L81.0,172.2 L76.7,175.8 L76.3,176.0 L75.9,176.3 L71.8,178.4 L71.6,178.5 L71.8,178.6 L72.1,178.9 L72.3,179.2 L72.5,179.5 L72.7,179.9 L72.8,180.2 L74.3,184.7 L74.4,185.1 L74.5,185.5 L74.5,185.8 L74.5,186.2 L74.5,186.6 L73.5,193.6 L73.4,193.9 L73.3,194.3 L73.2,194.6 L73.0,195.0 L72.8,195.3 L72.6,195.6 L72.3,195.8 L69.1,199.1 L67.2,201.7 L66.4,204.8 Z"/></clipPath>
<filter id="bl" x="-5%" y="-5%" width="110%" height="110%"><feGaussianBlur stdDeviation="0.7"/></filter>
<g clip-path="url(#cp)"><g filter="url(#bl)">
<path d="M40.0,60.0 234.5,60.0 234.5,221.5 40.0,221.5 40.0,60.0Z" fill="#46085c" fill-rule="evenodd"/>
<path d="M206.8,60.5 208.7,60.0 226.1,60.0 230.5,62.0 234.5,61.9 234.5,98.9 231.0,106.5 223.0,119.5 211.6,132.5 199.0,143.7 180.7,169.5 177.9,173.0 171.5,180.0 171.0,180.5 133.0,196.4 122.8,200.0 112.5,205.8 93.5,215.7 84.5,219.6 80.0,221.2 79.0,221.5 67.6,221.5 63.5,219.6 58.5,215.6 56.5,215.0 54.5,213.5 53.2,211.5 52.6,208.0 50.2,203.0 49.2,199.0 49.0,196.5 49.3,193.5 51.1,188.0 53.6,183.5 59.3,175.5 75.5,156.5 88.5,140.7 104.0,127.5 127.5,105.6 154.0,84.6 163.5,77.7 169.5,74.0 183.0,67.1 188.5,65.6 196.5,62.8 204.5,61.2 206.8,60.5Z" fill="#471063" fill-rule="evenodd"/>
<path d="M203.0,70.5 208.5,70.7 217.5,72.5 221.0,74.1 224.0,76.8 225.9,80.5 226.5,84.5 226.0,93.5 224.8,99.0 219.0,112.8 210.7,125.0 205.6,131.0 196.2,140.0 178.4,165.5 175.0,169.8 168.5,177.0 131.0,193.8 120.6,197.5 110.0,203.3 96.0,210.2 88.0,213.7 81.5,215.9 75.0,217.4 69.5,217.2 67.0,216.6 64.5,215.5 62.0,213.9 59.8,212.0 57.7,209.5 56.0,206.9 54.6,204.0 53.8,201.0 53.6,198.5 53.8,195.5 54.4,192.5 55.6,189.5 59.8,182.0 63.2,177.0 90.5,142.9 105.8,130.0 128.0,109.6 148.0,94.6 162.0,84.8 171.5,79.3 185.0,73.8 189.0,72.7 194.0,72.1 198.5,71.1 203.0,70.5Z" fill="#481a6c" fill-rule="evenodd"/>
<path d="M189.6,78.0 194.0,77.6 205.5,78.2 210.0,79.7 212.3,81.0 214.0,82.5 215.7,84.5 216.8,86.5 217.6,89.0 218.0,91.5 217.9,96.0 216.7,101.0 216.0,105.5 215.3,108.0 213.8,111.5 206.4,124.0 202.0,129.5 194.1,137.5 176.3,163.5 173.2,167.5 166.9,174.5 129.5,192.0 119.5,195.7 106.5,202.4 94.5,207.9 86.0,211.3 77.5,213.4 72.0,213.8 69.0,213.3 66.5,212.5 64.0,211.1 62.0,209.4 59.0,205.4 58.0,203.0 57.4,200.5 57.4,195.5 58.1,192.5 59.3,189.5 63.2,182.0 68.0,175.0 91.8,144.5 107.0,131.7 129.3,111.5 150.0,96.8 162.0,88.8 171.0,83.9 176.5,81.7 189.6,78.0Z" fill="#482173" fill-rule="evenodd"/>
<path d="M190.2,82.5 195.0,82.4 199.5,83.4 203.5,85.3 207.7,88.5 209.6,91.5 211.4,97.0 211.7,101.5 211.0,106.0 209.8,109.5 207.6,114.0 206.1,118.0 203.2,123.0 198.5,129.0 192.5,135.5 174.6,162.0 172.0,165.5 165.5,172.8 128.5,190.6 118.5,194.3 105.5,200.8 94.0,205.8 87.0,208.4 83.0,209.5 78.0,210.4 73.0,210.6 70.5,210.3 68.0,209.5 66.0,208.4 64.0,206.7 62.5,204.8 61.3,202.5 60.6,200.0 60.5,197.5 61.3,192.5 64.1,185.5 66.3,181.5 70.5,175.0 83.1,158.0 92.5,146.0 108.0,133.0 122.5,119.7 130.3,113.0 150.5,99.2 163.5,91.1 172.5,86.6 178.5,84.6 190.2,82.5Z" fill="#482979" fill-rule="evenodd"/>
<path d="M183.0,87.0 186.5,87.1 191.0,86.7 194.5,86.9 198.5,88.1 201.6,90.0 204.5,93.0 206.4,97.0 207.1,101.5 206.6,106.0 203.7,116.0 200.3,122.5 196.2,128.0 191.0,133.9 172.4,162.0 164.2,171.5 145.5,180.4 127.5,189.5 117.5,193.2 105.0,199.3 91.0,204.9 83.0,207.2 75.5,207.8 73.0,207.6 70.5,207.0 68.4,206.0 66.5,204.5 65.3,203.0 64.2,201.0 63.5,197.0 64.1,192.5 66.5,185.5 70.7,178.0 77.6,168.0 84.8,158.0 93.5,146.8 108.9,134.0 125.0,119.3 131.4,114.0 136.0,110.8 152.5,100.3 166.5,92.2 175.5,88.4 179.5,87.4 183.0,87.0Z" fill="#46327e" fill-rule="evenodd"/>
<path d="M180.5,90.0 185.5,89.9 193.0,91.1 196.6,92.5 199.5,94.8 201.6,98.0 202.5,101.5 202.6,104.5 201.8,112.5 200.1,117.5 197.1,123.0 193.8,127.5 190.0,132.0 171.8,160.0 169.6,163.0 163.4,170.0 144.5,179.3 126.5,188.7 116.5,192.3 105.0,197.8 92.0,202.7 84.0,204.9 79.0,205.4 73.0,204.6 71.0,203.8 69.0,202.3 67.1,199.5 66.6,197.5 66.4,195.5 67.1,190.0 68.8,185.0 72.3,178.5 78.5,169.0 85.6,159.0 94.0,147.9 109.5,135.0 124.5,121.3 132.0,115.2 135.5,112.7 152.5,102.2 165.0,95.3 173.5,91.7 180.5,90.0Z" fill="#443983" fill-rule="evenodd"/>
<path d="M181.3,92.5 185.5,92.7 189.5,93.8 192.5,95.4 196.0,98.3 197.8,101.5 199.1,105.5 199.4,109.5 198.8,113.5 197.3,118.0 194.8,122.5 188.9,130.5 182.1,141.5 177.5,148.2 173.2,155.5 169.0,161.5 162.4,169.0 143.5,178.4 126.0,187.7 116.0,191.4 110.0,194.3 103.0,197.3 93.0,200.8 84.5,202.9 79.5,203.3 75.0,202.4 73.3,201.5 71.4,200.0 70.2,198.5 69.4,196.5 68.9,192.5 69.7,188.0 72.0,182.5 74.1,178.5 80.0,169.0 86.5,159.5 94.8,148.5 110.0,135.9 125.0,122.2 132.5,116.2 136.0,113.8 153.0,103.7 166.0,96.9 174.5,93.7 178.0,92.9 181.3,92.5Z" fill="#424186" fill-rule="evenodd"/>
<path d="M180.2,95.0 184.5,95.2 188.0,96.2 191.0,97.9 193.5,100.2 195.3,103.0 196.5,106.5 196.7,110.0 196.2,114.0 194.8,118.0 192.4,122.5 187.6,129.5 181.3,140.0 176.6,147.0 172.3,154.5 168.0,160.7 161.5,168.2 143.0,177.4 125.2,187.0 115.5,190.5 109.0,193.6 101.0,196.8 90.0,200.1 82.5,201.2 80.0,201.2 77.5,200.7 75.5,199.9 73.5,198.4 71.7,195.5 71.1,192.0 71.7,188.0 73.9,182.0 79.8,171.5 85.3,163.0 95.5,149.0 110.8,136.5 125.6,123.0 133.2,117.0 136.5,114.8 154.0,104.8 165.5,99.1 173.0,96.3 177.0,95.4 180.2,95.0Z" fill="#3f4889" fill-rule="evenodd"/>
<path d="M177.5,97.5 181.5,97.4 185.0,98.0 188.3,99.5 190.8,101.5 192.8,104.5 193.8,107.5 194.1,111.0 193.6,114.5 192.2,118.5 190.2,122.5 186.6,128.0 179.7,140.0 175.7,146.0 171.8,153.0 167.5,159.5 161.0,167.0 152.0,171.8 142.4,176.5 124.5,186.3 115.0,189.8 108.5,192.8 101.5,195.4 90.5,198.5 85.5,199.3 82.0,199.3 79.5,198.9 77.1,198.0 75.5,196.8 73.8,194.0 73.3,191.0 73.8,187.5 75.5,182.0 80.4,172.5 85.7,164.0 96.0,149.7 111.5,137.0 126.0,123.8 135.5,116.6 142.0,112.7 158.0,104.3 169.5,99.4 173.5,98.2 177.5,97.5Z" fill="#3c4f8a" fill-rule="evenodd"/>
<path d="M174.7,100.0 179.0,99.7 182.5,100.1 185.5,101.1 188.0,102.8 189.8,105.0 191.1,108.0 191.5,111.5 191.1,115.0 190.0,118.5 188.4,122.0 183.1,131.0 179.3,138.0 174.9,145.0 171.1,152.0 166.5,159.0 160.0,166.5 142.0,175.6 124.0,185.6 114.5,189.1 108.5,191.8 102.0,194.2 91.0,197.0 86.5,197.6 84.0,197.5 81.0,197.0 79.0,196.2 77.4,195.0 76.0,192.9 75.5,190.0 75.8,186.0 77.2,181.5 81.3,173.0 86.7,164.0 96.5,150.3 112.0,137.6 126.5,124.4 135.0,117.9 142.0,113.8 157.0,106.3 168.0,101.8 174.7,100.0Z" fill="#39568c" fill-rule="evenodd"/>
<path d="M174.8,102.0 178.5,101.9 181.5,102.4 184.1,103.5 186.5,105.4 188.0,107.7 188.9,110.5 189.0,113.5 188.5,116.5 186.1,122.5 179.3,135.5 174.1,144.0 170.5,151.0 166.0,158.0 159.5,165.5 141.2,175.0 123.5,185.0 113.7,188.5 106.0,191.8 98.0,194.3 88.0,196.0 85.5,196.0 83.0,195.5 81.0,194.7 79.5,193.5 78.0,191.3 77.3,188.5 77.6,185.0 78.9,181.0 82.2,173.5 87.1,165.0 92.4,157.0 96.8,151.0 112.1,138.5 127.0,125.0 135.5,118.6 142.5,114.6 157.5,107.4 168.5,103.3 174.8,102.0Z" fill="#365d8d" fill-rule="evenodd"/>
<path d="M171.0,104.5 174.5,104.1 178.0,104.2 181.0,105.0 183.0,106.1 184.9,108.0 186.1,110.5 186.5,113.5 186.2,116.5 184.8,121.0 179.2,133.0 173.4,143.0 170.2,149.5 165.5,157.0 159.0,164.7 140.5,174.4 123.0,184.4 113.0,188.0 106.5,190.7 97.5,193.3 89.0,194.4 84.4,194.0 82.5,193.2 81.0,192.0 79.5,189.5 79.1,186.0 79.8,182.5 81.9,176.5 83.8,172.5 88.6,164.0 97.2,151.5 112.6,139.0 127.5,125.5 135.6,119.5 143.0,115.4 156.5,109.1 166.5,105.7 171.0,104.5Z" fill="#33638d" fill-rule="evenodd"/>
<path d="M170.1,106.5 173.5,106.1 176.5,106.3 179.0,107.0 181.4,108.5 183.0,110.5 183.8,112.5 184.1,115.0 183.7,118.0 182.6,121.5 178.0,132.5 172.7,142.0 169.3,149.0 164.7,156.5 158.4,164.0 140.0,173.7 122.5,183.9 106.5,189.8 97.0,192.4 89.5,192.9 85.5,192.4 84.0,191.7 82.5,190.5 81.3,188.5 80.8,185.5 81.3,182.5 83.2,176.0 89.2,164.5 97.6,152.0 113.1,139.5 128.0,125.9 136.0,120.1 143.5,116.1 157.0,110.2 161.5,108.6 170.1,106.5Z" fill="#306a8e" fill-rule="evenodd"/>
<path d="M168.9,108.5 172.0,108.2 175.0,108.5 177.0,109.0 179.0,110.2 180.5,111.9 181.4,114.0 181.6,116.5 181.3,119.0 180.2,123.0 177.1,131.5 172.0,141.1 168.8,148.0 164.3,155.5 157.7,163.5 139.5,173.1 122.5,183.1 107.0,188.8 99.0,191.0 93.5,191.7 87.2,191.0 85.5,190.3 84.0,189.0 82.9,187.0 82.6,184.5 83.2,179.5 84.3,176.0 89.7,165.0 98.0,152.5 113.5,140.0 128.4,126.5 136.5,120.7 144.0,116.7 157.0,111.4 162.0,109.8 168.9,108.5Z" fill="#2d708e" fill-rule="evenodd"/>
<path d="M167.5,110.5 170.5,110.3 173.0,110.5 175.0,111.0 177.0,112.3 178.4,114.0 179.1,116.0 179.2,118.5 178.9,121.0 177.1,127.5 175.7,131.5 171.1,140.5 168.0,147.5 163.6,155.0 157.0,162.9 139.0,172.5 122.0,182.6 107.5,187.8 99.5,190.0 94.5,190.6 90.1,190.0 87.5,189.1 85.9,188.0 84.6,186.0 84.2,182.5 84.4,179.5 85.3,176.0 90.5,165.0 94.8,158.0 98.5,152.9 113.9,140.5 128.7,127.0 137.0,121.2 144.5,117.4 157.0,112.6 162.5,111.1 167.5,110.5Z" fill="#2a768e" fill-rule="evenodd"/>
<path d="M162.0,112.5 165.5,112.1 170.0,112.3 172.0,112.7 173.9,113.5 175.5,114.9 176.4,116.5 176.8,118.5 176.8,121.0 176.0,126.0 174.9,130.0 173.0,134.5 170.5,139.5 167.8,146.0 163.0,154.4 156.8,162.0 148.0,167.0 138.5,171.9 121.8,182.0 120.0,182.7 105.5,187.7 98.0,189.3 95.0,189.5 92.0,189.2 89.5,188.3 87.5,186.9 86.2,185.0 85.4,182.5 85.5,179.5 86.3,176.0 89.0,169.5 91.0,165.5 94.9,159.0 98.7,153.5 114.2,141.0 129.0,127.6 137.0,122.0 142.0,119.3 146.5,117.4 157.5,113.6 162.0,112.5Z" fill="#287c8e" fill-rule="evenodd"/>
<path d="M160.9,114.0 164.0,113.6 167.0,113.8 169.0,114.3 172.0,115.6 173.4,117.0 174.2,118.5 174.8,122.0 174.7,124.5 174.1,128.0 173.0,131.5 166.3,147.0 162.5,153.7 156.2,161.5 138.0,171.4 120.5,181.9 106.0,186.8 98.5,188.2 95.5,188.4 92.5,188.0 90.5,187.3 88.6,186.0 87.3,184.0 86.6,181.5 86.8,178.5 87.5,175.5 89.6,170.0 91.5,166.0 95.3,159.5 99.0,154.0 114.5,141.5 129.5,127.9 137.5,122.4 146.5,118.3 160.9,114.0Z" fill="#26828e" fill-rule="evenodd"/>
<path d="M159.7,115.5 162.5,115.1 165.5,115.2 168.0,115.8 170.0,116.9 171.6,118.5 172.6,120.5 173.1,123.0 173.0,125.5 171.7,131.5 165.7,146.5 162.0,153.0 155.6,161.0 138.0,170.5 120.5,181.3 106.5,185.9 101.5,186.9 97.0,187.3 94.0,187.1 91.5,186.3 89.7,185.0 88.4,183.0 87.8,180.0 88.1,177.0 89.6,172.0 92.7,165.0 96.3,159.0 99.5,154.2 115.0,141.9 129.7,128.5 137.5,123.2 142.0,120.9 146.5,119.1 159.7,115.5Z" fill="#23888e" fill-rule="evenodd"/>
<path d="M158.3,117.0 161.5,116.6 164.0,116.7 166.0,117.1 168.1,118.0 169.5,119.2 170.6,121.0 171.3,123.5 171.4,126.0 170.3,131.5 165.2,145.5 161.5,152.4 155.5,160.0 146.5,165.3 137.5,170.0 120.0,180.9 106.5,185.2 101.5,186.1 95.0,186.1 92.5,185.3 90.7,184.0 89.5,182.0 89.0,179.5 89.3,176.5 90.6,171.5 92.2,167.5 94.5,163.0 100.0,154.5 115.5,142.2 130.0,129.0 136.5,124.6 140.5,122.3 146.0,120.0 158.3,117.0Z" fill="#218e8d" fill-rule="evenodd"/>
<path d="M156.8,118.5 160.0,118.1 162.5,118.1 165.0,118.6 166.8,119.5 168.0,120.6 169.1,122.5 169.6,124.5 169.7,127.0 169.2,130.5 167.5,135.5 166.6,139.5 164.3,145.5 161.0,151.8 155.0,159.5 146.0,164.8 137.0,169.5 119.5,180.5 107.0,184.3 102.0,185.3 95.5,185.0 93.5,184.3 91.8,183.0 90.6,181.0 90.2,179.0 90.3,176.5 91.4,171.5 92.9,167.5 95.2,163.0 100.3,155.0 115.5,142.9 130.5,129.3 135.0,126.3 139.0,123.8 145.5,121.0 150.0,119.7 156.8,118.5Z" fill="#20938c" fill-rule="evenodd"/>
<path d="M158.5,119.5 163.0,119.8 164.7,120.5 166.0,121.5 167.1,123.0 167.7,124.5 168.1,126.5 168.0,129.0 165.6,139.5 163.4,145.5 160.5,151.2 154.5,159.0 145.5,164.3 136.5,169.0 119.5,179.9 107.0,183.6 102.0,184.5 99.0,184.4 96.0,183.8 94.1,183.0 92.8,182.0 91.9,180.5 91.4,178.5 91.5,174.5 92.1,171.5 93.4,168.0 95.6,163.5 100.5,155.5 116.0,143.2 131.0,129.6 137.0,125.7 141.5,123.3 147.5,121.1 151.5,120.3 158.5,119.5Z" fill="#1f9a8a" fill-rule="evenodd"/>
<path d="M152.6,121.0 159.5,120.9 163.0,121.8 164.5,122.8 165.5,124.2 166.2,126.0 166.4,128.0 165.2,137.5 163.2,144.0 160.0,150.5 154.0,158.5 145.0,163.8 136.0,168.5 119.0,179.5 107.0,182.9 102.5,183.6 98.0,183.3 95.5,182.2 94.0,181.1 93.0,179.5 92.4,177.0 92.4,174.5 92.9,171.5 94.1,168.0 96.0,164.0 100.7,156.0 116.5,143.5 123.9,136.5 131.5,129.9 139.0,125.2 141.5,124.0 147.5,121.9 152.6,121.0Z" fill="#1fa088" fill-rule="evenodd"/>
<path d="M151.0,122.0 155.0,121.9 159.5,122.5 161.3,123.0 162.5,123.8 163.6,125.0 164.3,126.5 164.7,128.5 164.4,136.5 163.7,140.0 162.5,143.5 159.5,149.9 153.5,158.0 144.5,163.3 135.6,168.0 118.7,179.0 111.0,181.3 103.0,182.8 98.5,182.4 96.5,181.5 95.2,180.5 94.1,179.0 93.4,177.0 93.2,174.5 93.7,171.5 94.6,168.5 96.4,164.5 101.0,156.4 116.7,144.0 131.5,130.5 140.5,125.1 146.0,123.1 151.0,122.0Z" fill="#21a585" fill-rule="evenodd"/>
<path d="M149.7,123.0 155.0,122.9 160.5,124.8 161.8,126.0 162.6,127.5 163.5,132.5 163.6,135.5 163.1,138.5 161.1,145.0 159.0,149.3 153.0,157.5 144.5,162.5 135.1,167.5 118.5,178.5 111.0,180.6 103.5,182.0 99.5,181.6 97.8,181.0 96.3,180.0 95.1,178.5 94.3,176.5 94.1,174.0 94.4,171.5 95.5,168.0 97.2,164.0 101.5,156.6 117.0,144.5 124.3,137.5 132.0,130.8 140.5,125.7 145.5,123.9 149.7,123.0Z" fill="#25ac82" fill-rule="evenodd"/>
<path d="M148.4,124.0 151.5,123.7 154.0,123.8 156.0,124.2 158.0,125.0 159.5,126.2 160.9,128.0 161.9,130.0 162.5,132.5 162.6,135.0 162.3,138.0 160.2,145.0 158.5,148.7 152.5,157.0 144.0,162.0 135.0,166.8 118.0,178.1 111.0,180.0 104.0,181.1 100.0,180.8 98.5,180.2 97.0,179.1 96.0,177.9 95.2,176.0 95.0,173.5 95.3,171.0 97.9,164.0 101.9,157.0 117.5,144.7 124.6,138.0 132.5,131.1 141.0,126.2 148.4,124.0Z" fill="#2cb17e" fill-rule="evenodd"/>
<path d="M147.1,125.0 152.5,124.6 155.0,125.0 157.0,125.8 158.6,127.0 159.8,128.5 160.8,130.5 161.4,133.0 161.6,135.5 161.3,138.5 159.4,145.0 158.0,148.1 152.0,156.5 143.5,161.6 134.5,166.3 117.5,177.7 110.5,179.5 104.5,180.3 100.9,180.0 97.9,178.5 96.7,177.0 96.1,175.5 95.9,173.5 96.1,171.0 98.3,164.5 102.0,157.5 117.5,145.4 125.0,138.3 132.5,131.7 141.0,126.9 147.1,125.0Z" fill="#35b779" fill-rule="evenodd"/>
<path d="M148.9,125.5 153.5,125.7 155.5,126.3 157.0,127.2 158.4,128.5 159.5,130.4 160.5,134.5 160.1,140.0 158.1,146.0 156.2,149.5 151.5,156.0 143.0,161.1 134.0,165.8 117.5,177.1 111.0,178.8 105.0,179.5 101.0,179.0 98.5,177.5 97.5,176.2 96.9,174.5 97.0,170.5 98.9,164.5 102.3,158.0 118.0,145.7 125.5,138.5 133.0,132.0 141.5,127.3 145.5,126.1 148.9,125.5Z" fill="#3fbc73" fill-rule="evenodd"/>
<path d="M147.2,126.5 152.0,126.4 155.5,127.6 156.8,128.5 158.0,130.1 158.9,132.0 159.4,134.0 159.3,139.0 157.7,145.0 156.2,148.0 151.5,155.0 142.7,160.5 133.5,165.4 117.0,176.8 110.5,178.3 105.5,178.7 102.0,178.3 99.5,176.9 98.4,175.5 97.8,174.0 97.8,170.0 99.5,164.5 102.5,158.5 118.5,146.0 125.5,139.2 133.2,132.5 142.0,127.8 147.2,126.5Z" fill="#4ac16d" fill-rule="evenodd"/>
<path d="M145.7,127.5 150.5,127.2 154.0,128.0 156.5,130.0 157.7,132.0 158.3,134.0 158.6,136.5 158.4,139.0 156.9,145.0 155.0,148.5 151.0,154.5 142.2,160.0 133.0,164.9 116.5,176.3 111.0,177.6 106.5,178.0 102.7,177.5 100.1,176.0 98.7,173.5 98.5,171.5 98.7,169.5 100.1,164.5 103.0,158.7 118.8,146.5 126.0,139.5 133.5,132.9 142.0,128.5 145.7,127.5Z" fill="#58c765" fill-rule="evenodd"/>
<path d="M147.9,128.0 151.5,128.3 154.5,129.7 155.7,131.0 156.6,132.5 157.5,136.0 157.3,140.0 156.1,145.0 150.5,154.0 141.7,159.5 132.5,164.3 116.5,175.7 111.5,176.9 107.0,177.2 103.5,176.7 101.0,175.3 100.0,174.0 99.5,172.5 99.5,169.0 100.9,164.0 103.5,159.0 119.0,147.1 126.2,140.0 134.0,133.2 143.0,128.8 147.9,128.0Z" fill="#65cb5e" fill-rule="evenodd"/>
<path d="M145.5,129.0 149.5,128.9 152.9,130.0 155.0,132.0 156.3,135.5 156.5,139.5 155.4,144.5 150.0,153.5 141.5,158.8 132.0,163.8 116.0,175.3 111.0,176.3 107.0,176.5 104.0,175.9 101.7,174.5 101.0,173.5 100.4,172.0 100.3,168.5 101.6,164.0 103.7,159.5 119.5,147.4 126.5,140.5 134.0,133.9 141.5,130.1 143.5,129.4 145.5,129.0Z" fill="#73d056" fill-rule="evenodd"/>
<path d="M143.9,130.0 148.0,129.7 151.5,130.5 153.0,131.5 153.9,132.5 155.2,135.5 155.6,139.0 154.9,143.5 152.6,148.0 149.5,153.0 141.0,158.3 131.9,163.0 115.5,174.9 111.0,175.6 107.5,175.7 105.0,175.2 102.8,174.0 101.9,173.0 101.3,171.5 101.1,168.5 102.0,164.5 104.0,160.0 119.7,148.0 127.0,140.8 134.5,134.2 139.5,131.7 143.9,130.0Z" fill="#84d44b" fill-rule="evenodd"/>
<path d="M143.2,131.0 144.5,130.6 147.0,130.5 150.5,131.3 152.7,133.0 154.2,136.0 154.6,139.5 154.1,143.0 152.0,147.5 149.0,152.5 140.5,157.7 131.2,162.5 115.0,174.4 111.0,175.0 108.0,175.0 105.5,174.4 103.5,173.2 102.2,171.0 101.9,168.5 102.5,165.0 104.3,160.5 120.1,148.5 127.5,141.1 134.5,134.9 138.5,132.9 143.2,131.0Z" fill="#93d741" fill-rule="evenodd"/>
<path d="M144.4,131.5 147.7,131.5 150.5,132.5 152.3,134.5 153.4,137.5 153.6,140.0 153.2,142.5 151.3,147.0 148.5,151.9 140.0,157.1 131.0,161.7 115.0,173.7 112.0,174.2 108.5,174.2 106.0,173.6 104.3,172.5 103.0,170.5 102.7,168.0 103.3,164.5 104.6,161.0 120.5,149.0 127.5,141.9 135.0,135.2 140.0,132.9 144.4,131.5Z" fill="#a2da37" fill-rule="evenodd"/>
<path d="M143.9,132.5 146.5,132.3 149.5,133.3 151.2,135.0 152.4,138.0 152.6,140.5 152.1,142.5 150.5,146.5 148.0,151.2 139.5,156.5 130.0,161.3 114.5,173.2 112.0,173.6 109.0,173.5 106.5,172.8 105.0,171.7 103.9,170.0 103.5,167.5 104.0,164.5 105.0,161.5 121.0,149.5 128.0,142.3 135.5,135.6 140.0,133.7 143.9,132.5Z" fill="#b5de2b" fill-rule="evenodd"/>
<path d="M143.5,133.5 146.5,133.2 148.5,134.0 150.4,136.0 151.4,138.5 151.5,140.1 150.7,143.5 147.5,150.6 139.0,155.8 129.5,160.5 122.0,166.6 114.0,172.7 111.5,172.9 109.0,172.6 107.2,172.0 105.8,171.0 104.8,169.5 104.4,167.5 104.6,165.0 105.5,161.9 121.5,150.1 128.5,142.7 136.0,136.0 140.0,134.4 143.5,133.5Z" fill="#c5e021" fill-rule="evenodd"/>
<path d="M143.3,134.5 145.5,134.4 147.5,134.8 149.0,136.0 150.0,138.0 150.1,140.5 149.6,143.5 148.3,147.0 146.8,150.0 138.5,155.1 129.0,159.5 121.4,166.0 113.5,172.1 109.5,171.8 108.0,171.3 106.5,170.2 105.7,169.0 105.2,167.0 105.4,164.5 106.0,162.4 122.0,150.8 129.0,143.1 136.0,136.8 139.5,135.4 143.3,134.5Z" fill="#d8e219" fill-rule="evenodd"/>
<path d="M140.3,136.0 143.0,135.6 145.5,135.7 147.2,136.5 148.2,138.0 148.7,140.0 148.6,142.5 147.8,145.5 146.4,149.0 137.6,154.5 128.0,158.7 121.0,165.0 113.0,171.3 110.0,171.1 107.5,169.7 106.5,168.5 106.1,167.0 106.0,165.0 106.5,163.0 114.5,157.1 122.5,151.7 129.2,144.0 136.5,137.3 140.3,136.0Z" fill="#e7e419" fill-rule="evenodd"/>
<path d="M139.8,137.0 142.5,136.7 144.5,136.9 146.0,137.8 146.8,139.0 147.3,141.0 147.2,143.0 146.6,146.0 145.5,148.5 137.0,153.6 127.0,157.4 120.0,164.3 112.5,170.4 110.5,170.3 108.2,169.0 107.0,166.9 107.0,163.8 115.0,157.9 123.5,152.6 130.0,144.4 137.0,137.9 139.8,137.0Z" fill="#f6e620" fill-rule="evenodd"/>
</g></g>
<line x1="47.8" y1="236.3" x2="269.6" y2="19.4" stroke="#000" stroke-width="1.2"/>
<line x1="81.20" y1="247.0" x2="81.20" y2="9.2" stroke="#6a6a6a" stroke-width="1.0" stroke-dasharray="3.5 1.78"/>
<line x1="37.2" y1="203.90" x2="281.3" y2="203.90" stroke="#6a6a6a" stroke-width="1.0" stroke-dasharray="3.5 1.78"/>
<line x1="138.95" y1="247.0" x2="138.95" y2="9.2" stroke="#6a6a6a" stroke-width="1.0" stroke-dasharray="3.5 1.78"/>
<line x1="37.2" y1="147.30" x2="281.3" y2="147.30" stroke="#6a6a6a" stroke-width="1.0" stroke-dasharray="3.5 1.78"/>
<line x1="196.70" y1="247.0" x2="196.70" y2="9.2" stroke="#6a6a6a" stroke-width="1.0" stroke-dasharray="3.5 1.78"/>
<line x1="37.2" y1="90.70" x2="281.3" y2="90.70" stroke="#6a6a6a" stroke-width="1.0" stroke-dasharray="3.5 1.78"/>
<line x1="254.45" y1="247.0" x2="254.45" y2="9.2" stroke="#6a6a6a" stroke-width="1.0" stroke-dasharray="3.5 1.78"/>
<line x1="37.2" y1="34.10" x2="281.3" y2="34.10" stroke="#6a6a6a" stroke-width="1.0" stroke-dasharray="3.5 1.78"/>
<rect x="37.2" y="9.2" width="244.10" height="237.80" fill="none" stroke="#000" stroke-width="1.15"/>
<line x1="81.20" y1="247.0" x2="81.20" y2="251.00" stroke="#000" stroke-width="0.9"/>
<line x1="37.2" y1="203.90" x2="33.20" y2="203.90" stroke="#000" stroke-width="0.9"/>
<text x="81.00" y="262.3" text-anchor="middle" class="t" textLength="21.6" lengthAdjust="spacingAndGlyphs">1840</text>
<text transform="translate(26.8 205.50) rotate(-90)" x="0" y="0" text-anchor="middle" class="t" textLength="22.4" lengthAdjust="spacingAndGlyphs">1840</text>
<line x1="138.95" y1="247.0" x2="138.95" y2="251.00" stroke="#000" stroke-width="0.9"/>
<line x1="37.2" y1="147.30" x2="33.20" y2="147.30" stroke="#000" stroke-width="0.9"/>
<text x="138.75" y="262.3" text-anchor="middle" class="t" textLength="21.6" lengthAdjust="spacingAndGlyphs">1880</text>
<text transform="translate(26.8 148.90) rotate(-90)" x="0" y="0" text-anchor="middle" class="t" textLength="22.4" lengthAdjust="spacingAndGlyphs">1880</text>
<line x1="196.70" y1="247.0" x2="196.70" y2="251.00" stroke="#000" stroke-width="0.9"/>
<line x1="37.2" y1="90.70" x2="33.20" y2="90.70" stroke="#000" stroke-width="0.9"/>
<text x="196.50" y="262.3" text-anchor="middle" class="t" textLength="21.6" lengthAdjust="spacingAndGlyphs">1920</text>
<text transform="translate(26.8 92.30) rotate(-90)" x="0" y="0" text-anchor="middle" class="t" textLength="22.4" lengthAdjust="spacingAndGlyphs">1920</text>
<line x1="254.45" y1="247.0" x2="254.45" y2="251.00" stroke="#000" stroke-width="0.9"/>
<line x1="37.2" y1="34.10" x2="33.20" y2="34.10" stroke="#000" stroke-width="0.9"/>
<text x="254.25" y="262.3" text-anchor="middle" class="t" textLength="21.6" lengthAdjust="spacingAndGlyphs">1960</text>
<text transform="translate(26.8 35.70) rotate(-90)" x="0" y="0" text-anchor="middle" class="t" textLength="22.4" lengthAdjust="spacingAndGlyphs">1960</text>
<text x="39" y="18.9" class="pl">a</text>
<g transform="translate(131.4 277.8)"><text x="0" y="0" class="t" textLength="12.6" lengthAdjust="spacingAndGlyphs">CH</text><text x="13.6" y="1.8" class="t" style="font-size:4.8px">4</text><text x="13.4" y="-3.9" class="t" style="font-size:6.6px" textLength="10.2" lengthAdjust="spacingAndGlyphs">obs</text><text x="27.5" y="0" class="t" textLength="27.6" lengthAdjust="spacingAndGlyphs">[ppbv]</text></g>
<g transform="translate(12.0 157.0) rotate(-90)"><text x="0" y="0" class="t" textLength="12.6" lengthAdjust="spacingAndGlyphs">CH</text><text x="13.6" y="1.8" class="t" style="font-size:4.8px">4</text><text x="13.4" y="-3.9" class="t" style="font-size:6.6px" textLength="12.8" lengthAdjust="spacingAndGlyphs">pred</text><text x="30.1" y="0" class="t" textLength="27.6" lengthAdjust="spacingAndGlyphs">[ppbv]</text></g>
</g>
<g id="pb">
<path d="M337.0,247.0 L337.0,230.9 L350.10,230.9 L350.1,170.3 L363.10,170.3 L363.1,61.0 L376.10,61.0 L376.1,66.7 L389.10,66.7 L389.1,115.6 L402.10,115.6 L402.1,154.3 L415.20,154.3 L415.2,198.0 L428.40,198.0 L428.4,225.1 L441.60,225.1 L441.6,225.1 L454.80,225.1 L454.8,231.1 L468.00,231.1 L468.0,241.6 L481.10,241.6 L481.1,231.1 L494.00,231.1 L494.0,247.0 Z" fill="#b2c5e0"/>
<path d="M304.00,246.90 C305.00,246.88 307.90,246.93 310.00,246.80 C312.10,246.67 314.32,246.55 316.60,246.10 C318.88,245.65 321.48,244.95 323.70,244.10 C325.92,243.25 327.98,242.42 329.90,241.00 C331.82,239.58 333.72,237.53 335.20,235.60 C336.68,233.67 337.67,231.33 338.80,229.40 C339.93,227.47 340.82,226.85 342.00,224.00 C343.18,221.15 344.63,216.73 345.90,212.30 C347.17,207.87 348.37,202.37 349.60,197.40 C350.83,192.43 352.00,188.40 353.30,182.50 C354.60,176.60 356.30,169.08 357.40,162.00 C358.50,154.92 359.15,147.00 359.90,140.00 C360.65,133.00 361.28,126.30 361.90,120.00 C362.52,113.70 362.90,107.23 363.60,102.20 C364.30,97.17 365.07,93.52 366.10,89.80 C367.13,86.08 368.57,82.27 369.80,79.90 C371.03,77.53 372.17,76.52 373.50,75.60 C374.83,74.68 376.47,74.37 377.80,74.40 C379.13,74.43 380.35,74.88 381.50,75.80 C382.65,76.72 383.33,77.15 384.70,79.90 C386.07,82.65 388.05,87.55 389.70,92.30 C391.35,97.05 393.17,103.43 394.60,108.40 C396.03,113.37 397.13,117.75 398.30,122.10 C399.47,126.45 400.43,130.18 401.60,134.50 C402.77,138.82 403.92,143.32 405.30,148.00 C406.68,152.68 408.07,156.63 409.90,162.60 C411.73,168.57 413.82,177.07 416.30,183.80 C418.78,190.53 422.27,198.13 424.80,203.00 C427.33,207.87 429.37,210.17 431.50,213.00 C433.63,215.83 435.02,217.82 437.60,220.00 C440.18,222.18 444.28,224.15 447.00,226.10 C449.72,228.05 451.58,230.23 453.90,231.70 C456.22,233.17 458.58,234.20 460.90,234.90 C463.22,235.60 464.80,235.62 467.80,235.90 C470.80,236.18 475.65,236.25 478.90,236.60 C482.15,236.95 484.52,237.20 487.30,238.00 C490.08,238.80 493.05,240.32 495.60,241.40 C498.15,242.48 500.28,243.68 502.60,244.50 C504.92,245.32 506.95,245.90 509.50,246.30 C512.05,246.70 515.00,246.80 517.90,246.90 C520.80,247.00 525.40,246.90 526.90,246.90" fill="none" stroke="#3264ae" stroke-width="1.45" stroke-linejoin="round"/>
<rect x="293.4" y="8.9" width="244.10" height="238.10" fill="none" stroke="#000" stroke-width="1.15"/>
<line x1="329.90" y1="247.0" x2="329.90" y2="251.00" stroke="#000" stroke-width="0.9"/>
<text x="329.60" y="262.3" text-anchor="middle" class="t" textLength="13.4" lengthAdjust="spacingAndGlyphs">0.5</text>
<line x1="374.70" y1="247.0" x2="374.70" y2="251.00" stroke="#000" stroke-width="0.9"/>
<text x="374.40" y="262.3" text-anchor="middle" class="t" textLength="13.4" lengthAdjust="spacingAndGlyphs">1.0</text>
<line x1="419.50" y1="247.0" x2="419.50" y2="251.00" stroke="#000" stroke-width="0.9"/>
<text x="419.20" y="262.3" text-anchor="middle" class="t" textLength="13.4" lengthAdjust="spacingAndGlyphs">1.5</text>
<line x1="464.30" y1="247.0" x2="464.30" y2="251.00" stroke="#000" stroke-width="0.9"/>
<text x="464.00" y="262.3" text-anchor="middle" class="t" textLength="13.4" lengthAdjust="spacingAndGlyphs">2.0</text>
<line x1="509.10" y1="247.0" x2="509.10" y2="251.00" stroke="#000" stroke-width="0.9"/>
<text x="508.80" y="262.3" text-anchor="middle" class="t" textLength="13.4" lengthAdjust="spacingAndGlyphs">2.5</text>
<line x1="537.5" y1="187.50" x2="541.50" y2="187.50" stroke="#000" stroke-width="0.9"/>
<text transform="translate(549.0 186.80) rotate(90)" x="0" y="0" text-anchor="middle" class="t" textLength="13.4" lengthAdjust="spacingAndGlyphs">0.5</text>
<line x1="537.5" y1="127.90" x2="541.50" y2="127.90" stroke="#000" stroke-width="0.9"/>
<text transform="translate(549.0 127.20) rotate(90)" x="0" y="0" text-anchor="middle" class="t" textLength="13.4" lengthAdjust="spacingAndGlyphs">1.0</text>
<line x1="537.5" y1="68.30" x2="541.50" y2="68.30" stroke="#000" stroke-width="0.9"/>
<text transform="translate(549.0 67.60) rotate(90)" x="0" y="0" text-anchor="middle" class="t" textLength="13.4" lengthAdjust="spacingAndGlyphs">1.5</text>
<line x1="537.5" y1="8.70" x2="541.50" y2="8.70" stroke="#000" stroke-width="0.9"/>
<text transform="translate(549.0 8.00) rotate(90)" x="0" y="0" text-anchor="middle" class="t" textLength="13.4" lengthAdjust="spacingAndGlyphs">2.0</text>
<text x="295.6" y="19.1" class="pl">b</text>
<text transform="translate(567.6 127.5) rotate(90)" x="0" y="0" text-anchor="middle" class="t" textLength="32.8" lengthAdjust="spacingAndGlyphs">Density</text>
<text x="410.9" y="277.6" class="t" font-style="italic" style="font-size:9.0px">χ</text>
<text x="416.5" y="273.6" class="t" style="font-size:5.6px">2</text>
<text x="416.5" y="278.70000000000005" class="t" style="font-size:5.6px">ν</text>
</g>
</svg>
</body></html>
